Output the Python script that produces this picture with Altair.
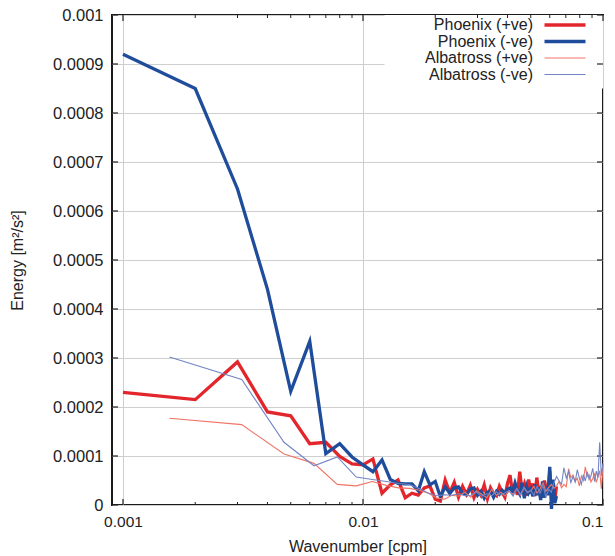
import altair as alt
import pandas as pd

# ---------------- data (energy values in units of 1e-5 m^2/s^2) ----------------
series_names = ["Phoenix (+ve)", "Phoenix (-ve)", "Albatross (+ve)", "Albatross (-ve)"]
phoenix_dk = 0.001        # wavenumber spacing of Phoenix spectra [cpm]
albatross_dk = 0.0015625  # wavenumber spacing of Albatross spectra [cpm]
unit = 1e-5

phoenix_pos = [
    23.0, 21.5, 29.2, 19.0, 18.2, 12.5, 12.8, 9.9, 8.4, 8.2, 9.4, 2.4,
    4.1, 5.1, 1.5, 2.4, 2.0, 3.5, 3.9, 1.2,
    0.8, 5.1, 2.5, 4.6, 1.6, 3.8, 2.2, 4.0, 1.5, 3.2,
    2.0, 4.1, 1.3, 3.5, 2.4, 1.9, 3.8, 2.6, 1.6, 4.4,
    6.1, 2.3, 3.6, 2.1, 6.8, 2.8, 4.2, 1.9, 5.2, 3.0,
    4.4, 1.8, 5.6, 2.6, 3.9, 1.5, 5.0, 3.3, 2.2, 6.9,
    2.4, 4.6, 1.0, 3.8,
]
phoenix_neg = [
    92.0, 85.0, 64.5, 44.0, 23.2, 33.4, 10.5, 12.5, 9.8, 8.2, 6.8, 9.2,
    5.2, 4.4, 4.3, 4.3, 2.9, 6.8, 4.1, 4.8,
    1.7, 3.7, 2.4, 3.5, 3.7, 2.4, 2.1, 3.3, 3.5, 2.0,
    2.8, 1.4, 2.6, 2.9, 1.6, 2.8, 2.2, 3.0, 2.4, 3.2,
    3.5, 2.7, 4.5, 3.0, 2.2, 4.5, 1.4, 3.8, 2.5, 3.3,
    1.8, 4.2, 2.0, 3.6, 1.0, 4.8, 1.5, 3.0, 2.0, 7.8,
    -0.8, 5.2, 0.4, 1.8,
]
albatross_pos = [
    17.7, 16.4, 10.4, 8.5, 4.2, 3.9, 4.8, 4.0,
    3.5, 3.4, 3.0, 2.4, 1.4, 1.2, 2.0, 1.8,
    2.6, 1.6, 2.9, 2.2, 1.5, 3.2, 2.0, 2.6,
    1.9, 2.8, 2.2, 3.3, 2.0, 3.5, 2.6, 2.9,
    3.8, 2.4, 3.3, 4.5, 2.8, 3.6, 4.2, 3.4,
    3.9, 4.8, 3.5, 4.2, 3.7, 7.4, 5.6, 6.1,
    4.8, 5.5, 3.9, 5.9, 5.0, 7.8, 5.8, 6.2,
    4.7, 5.4, 6.3, 4.6, 5.8, 7.0, 3.3, 8.2,
]
albatross_neg = [
    30.2, 25.6, 12.8, 8.0, 9.8, 5.7, 5.2, 4.8,
    4.4, 4.2, 3.3, 2.4, 1.9, 2.1, 2.0, 2.3,
    1.9, 2.0, 2.6, 1.8, 2.3, 1.9, 2.7, 2.0,
    2.5, 2.9, 1.8, 3.4, 2.2, 3.6, 2.5, 3.0,
    2.0, 3.8, 2.4, 4.0, 1.6, 3.2, 2.6, 4.6,
    5.8, 4.9, 4.2, 7.6, 5.5, 6.8, 4.6, 5.8,
    4.7, 7.2, 5.5, 4.2, 6.2, 4.9, 6.8, 5.2,
    5.9, 7.5, 4.8, 6.9, 5.6, 12.8, 6.0, 8.5,
]

y_ticks = [0, 0.0001, 0.0002, 0.0003, 0.0004, 0.0005, 0.0006, 0.0007, 0.0008, 0.0009, 0.001]
x_major = [0.001, 0.01, 0.1]
x_minor = [0.002, 0.003, 0.004, 0.005, 0.006, 0.007, 0.008, 0.009,
           0.02, 0.03, 0.04, 0.05, 0.06, 0.07, 0.08, 0.09]
# white key background (data-space extent, covers the grid behind the key)
key_box = {"k": [0.0123], "k2": [0.1], "E": [0.00085], "E2": [0.001]}

# ---------------- table ----------------
rows = []
for name, vals, dk in [
    (series_names[0], phoenix_pos, phoenix_dk),
    (series_names[1], phoenix_neg, phoenix_dk),
    (series_names[2], albatross_pos, albatross_dk),
    (series_names[3], albatross_neg, albatross_dk),
]:
    for i, v in enumerate(vals):
        rows.append({"series": name, "k": (i + 1) * dk, "E": v * unit})
df = pd.DataFrame(rows)

colors = ["#e2262b", "#1f4d9b", "#f07466", "#7384c4"]
widths = [3.3, 3.3, 1.1, 1.1]

W, H = 491, 490
FONT = "Liberation Sans"

xscale = alt.Scale(type="log", domain=[0.0009, 0.1], nice=False)
yscale = alt.Scale(domain=[0, 0.001], nice=False, zero=False)
x_axis = alt.Axis(values=x_major, format="~g", title="Wavenumber [cpm]", labelFontSize=15.5)
y_axis = alt.Axis(values=y_ticks, format="~g", title="Energy [m²/s²]", labelFontSize=16.5)

legend = alt.Legend(
    title=None, orient="none", legendX=443, legendY=0,
    symbolType="M-4,0H4", symbolSize=105, labelAlign="right", labelOffset={"expr": "-40"},
    labelFontSize=16, labelFont=FONT, labelColor="#222", labelLimit=300,
    rowPadding=0.5, padding=2,
)

box = alt.Chart(pd.DataFrame(key_box)).mark_rect(color="white").encode(
    x=alt.X("k:Q", scale=xscale, axis=x_axis), x2="k2:Q",
    y=alt.Y("E:Q", scale=yscale, axis=y_axis), y2="E2:Q",
)

lines = alt.Chart(df).mark_line(clip=False).encode(
    x=alt.X("k:Q", scale=xscale, axis=x_axis),
    y=alt.Y("E:Q", scale=yscale, axis=y_axis),
    color=alt.Color("series:N", sort=series_names,
                    scale=alt.Scale(type="ordinal", domain=series_names, range=colors), legend=legend),
    strokeWidth=alt.StrokeWidth("series:N", sort=series_names,
                                scale=alt.Scale(type="ordinal", domain=series_names, range=widths),
                                legend=legend),
    detail="series:N",
)

# inward tick marks on all four sides
ytick_df = pd.DataFrame({"E": y_ticks})
xmaj_df = pd.DataFrame({"k": x_major})
xmin_df = pd.DataFrame({"k": x_minor})

tick_color = "#222"
def yrule(x0, x1):
    return alt.Chart(ytick_df).mark_rule(color=tick_color, strokeWidth=1.2).encode(
        y=alt.Y("E:Q", scale=yscale, axis=y_axis), x=alt.value(x0), x2=alt.value(x1))

def xrule(d, y0, y1, sw):
    return alt.Chart(d).mark_rule(color=tick_color, strokeWidth=sw).encode(
        x=alt.X("k:Q", scale=xscale, axis=x_axis), y=alt.value(y0), y2=alt.value(y1))

chart = alt.layer(
    box,
    yrule(0, 6), yrule(W - 6, W),
    xrule(xmaj_df, H - 6, H, 1.2), xrule(xmaj_df, 0, 6, 1.2),
    xrule(xmin_df, H - 3, H, 1), xrule(xmin_df, 0, 3, 1),
    lines,
).properties(
    width=W, height=H,
    autosize=alt.AutoSizeParams(type="none"),
    padding={"left": 112, "top": 15, "right": 12, "bottom": 51},
    background="white",
).configure_view(
    stroke="#1a1a1a", strokeWidth=2,
).configure_axis(
    domain=False, ticks=False, grid=True, gridColor="#cfcfcf", gridWidth=1,
    labelFont=FONT, labelColor="#222", labelPadding=9,
    titleFont=FONT, titleFontSize=16, titleFontWeight="normal", titleColor="#222",
).configure_axisY(
    titlePadding=27,
).configure_axisX(
    titlePadding=9,
)

chart.save("out.html", embed_options={"renderer": "svg", "actions": False})
